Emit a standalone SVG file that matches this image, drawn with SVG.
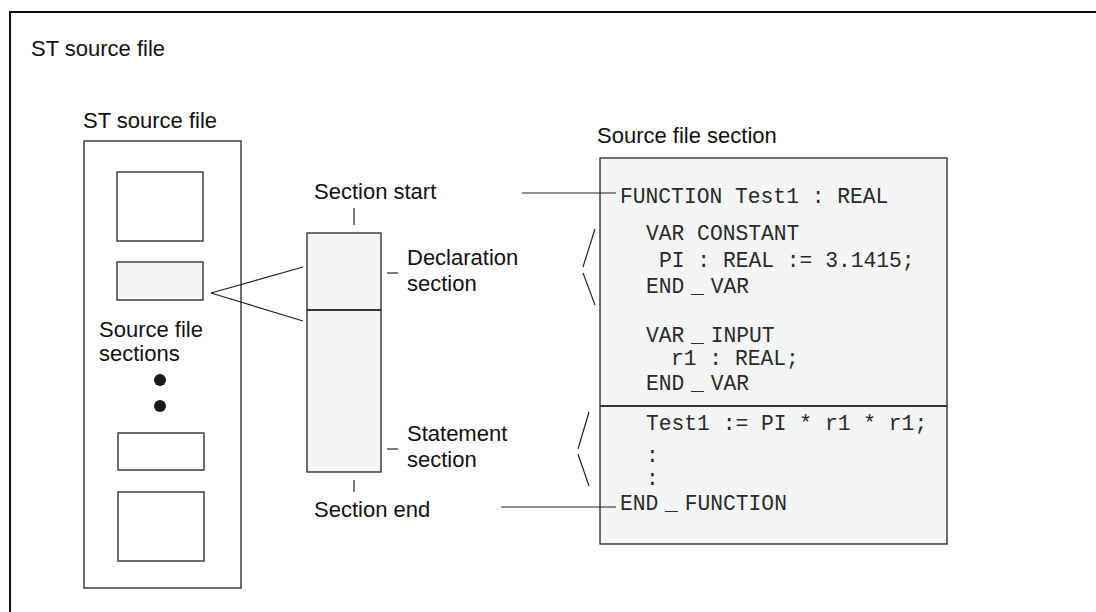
<svg xmlns="http://www.w3.org/2000/svg" width="1096" height="612" viewBox="0 0 1096 612">
<style>
.sans{font-family:"Liberation Sans",Arial,sans-serif;font-size:22px;fill:#111}
.mono{font-family:"Liberation Mono","Courier New",monospace;font-size:21.3px;fill:#2a2a2a}
.box{fill:#fff;stroke:#333;stroke-width:1.4}
.shade{fill:#f4f5f5;stroke:#333;stroke-width:1.4}
.div{stroke:#333;stroke-width:2}
.ln{stroke:#222;stroke-width:1.2;fill:none}
.us{word-spacing:-6px}
</style>
<rect x="0" y="0" width="1096" height="612" fill="#fff"/>
<path d="M10,612 V12 H1096" fill="none" stroke="#111" stroke-width="2"/>
<text class="sans" x="31" y="56">ST source file</text>

<g id="st-file">
  <text class="sans" x="83" y="128">ST source file</text>
  <rect class="box" x="84" y="141" width="157" height="447"/>
  <rect class="box" x="117" y="172" width="86" height="69"/>
  <rect class="shade" x="117" y="262" width="86" height="38"/>
  <text class="sans" x="99" y="337">Source file</text>
  <text class="sans" x="99" y="361">sections</text>
  <circle cx="160" cy="380" r="6" fill="#1a1a1a"/>
  <circle cx="160" cy="406" r="6" fill="#1a1a1a"/>
  <rect class="box" x="118" y="433" width="86" height="37"/>
  <rect class="box" x="118" y="492" width="86" height="69"/>
</g>

<g id="section">
  <text class="sans" x="314" y="199">Section start</text>
  <rect class="shade" x="307" y="233" width="74" height="239"/>
  <line class="div" x1="307" y1="310" x2="381" y2="310"/>
  <text class="sans" x="407" y="265">Declaration</text>
  <text class="sans" x="407" y="291">section</text>
  <text class="sans" x="407" y="441">Statement</text>
  <text class="sans" x="407" y="467">section</text>
  <text class="sans" x="314" y="517">Section end</text>
</g>

<g id="source-section">
  <text class="sans" x="597" y="143">Source file section</text>
  <rect class="shade" x="600" y="158" width="347" height="386"/>
  <line class="div" x1="600" y1="406" x2="947" y2="406"/>
  <text class="mono" x="620" y="203" xml:space="preserve">FUNCTION Test1 : REAL</text>
  <text class="mono" x="646" y="240">VAR CONSTANT</text>
  <text class="mono" x="659" y="267" xml:space="preserve">PI : REAL := 3.1415;</text>
  <text class="mono us" x="646" y="293">END _ VAR</text>
  <text class="mono us" x="646" y="342">VAR _ INPUT</text>
  <text class="mono" x="671" y="365">r1 : REAL;</text>
  <text class="mono us" x="646" y="390">END _ VAR</text>
  <text class="mono" x="646" y="430">Test1 := PI * r1 * r1;</text>
  <text class="mono" x="646" y="462">:</text>
  <text class="mono" x="646" y="485">:</text>
  <text class="mono us" x="620" y="510">END _ FUNCTION</text>
</g>

<g id="connectors" class="ln">
  <line x1="211" y1="293" x2="303" y2="267"/>
  <line x1="211" y1="293" x2="303" y2="321"/>
  <line x1="354" y1="208" x2="354" y2="225"/>
  <line x1="354" y1="480" x2="354" y2="492"/>
  <line x1="387" y1="273" x2="398" y2="273"/>
  <line x1="387" y1="449" x2="398" y2="449"/>
  <line x1="522" y1="193" x2="616" y2="193"/>
  <line x1="501" y1="507" x2="616" y2="507"/>
  <line x1="595" y1="229" x2="583" y2="267"/>
  <line x1="583" y1="273" x2="595" y2="305"/>
  <line x1="589" y1="412" x2="578" y2="449"/>
  <line x1="578" y1="454" x2="589" y2="486"/>
</g>
</svg>
